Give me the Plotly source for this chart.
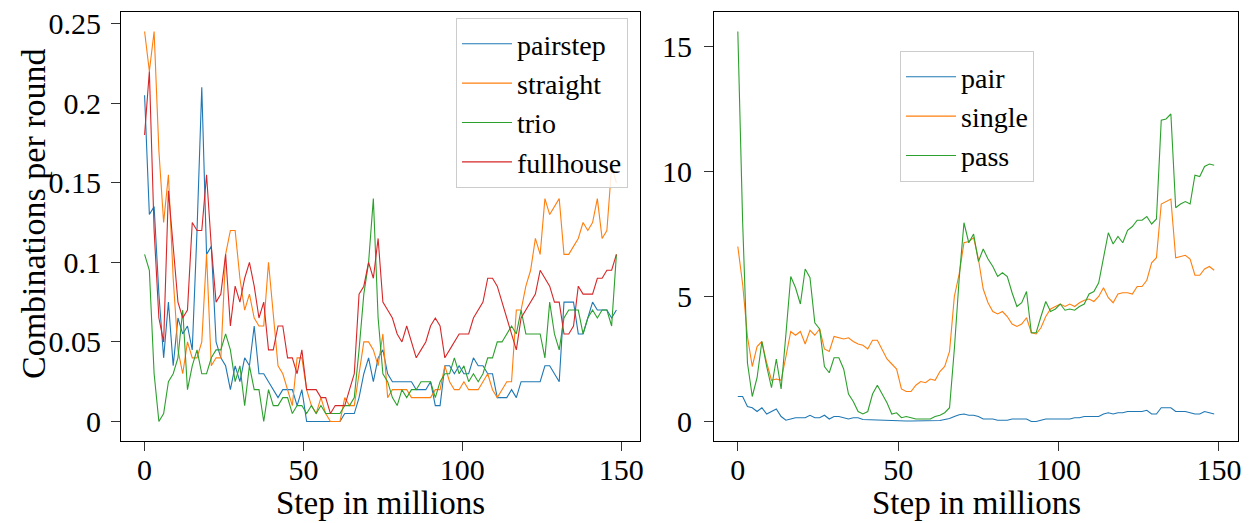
import plotly.graph_objects as go

# ---------------- data ----------------
steps = [round(1.5 * i, 1) for i in range(100)]  # step in millions

pairstep = [0.205, 0.13, 0.135, 0.08, 0.04, 0.075, 0.035, 0.065, 0.055, 0.06,
            0.045, 0.12, 0.21, 0.105, 0.11, 0.05, 0.04, 0.035, 0.02, 0.035,
            0.025, 0.04, 0.035, 0.06, 0.03, 0.03, 0.025, 0.02, 0.015, 0.02,
            0.02, 0.02, 0.01, 0.02, 0.0, 0.0, 0.0, 0.0, 0.0, 0.0,
            0.0, 0.0, 0.005, 0.005, 0.005, 0.015, 0.03, 0.04, 0.025, 0.04,
            0.045, 0.03, 0.025, 0.025, 0.025, 0.025, 0.025, 0.02, 0.02, 0.02,
            0.025, 0.01, 0.01, 0.035, 0.035, 0.03, 0.035, 0.03, 0.03, 0.04,
            0.035, 0.035, 0.03, 0.03, 0.015, 0.015, 0.015, 0.02, 0.015, 0.025,
            0.025, 0.025, 0.025, 0.025, 0.035, 0.035, 0.03, 0.025, 0.075, 0.075,
            0.075, 0.055, 0.055, 0.065, 0.075, 0.07, 0.07, 0.07, 0.065, 0.07]

straight = [0.245, 0.22, 0.245, 0.17, 0.125, 0.155, 0.09, 0.045, 0.03, 0.05,
            0.04, 0.04, 0.05, 0.105, 0.035, 0.04, 0.04, 0.105, 0.12, 0.12,
            0.09, 0.07, 0.08, 0.065, 0.06, 0.06, 0.1, 0.065, 0.035, 0.03,
            0.02, 0.01, 0.04, 0.04, 0.02, 0.01, 0.005, 0.015, 0.005, 0.0,
            0.0, 0.0, 0.015, 0.01, 0.01, 0.03, 0.05, 0.05, 0.045, 0.035,
            0.055, 0.015, 0.02, 0.02, 0.02, 0.02, 0.015, 0.015, 0.015, 0.015,
            0.015, 0.02, 0.02, 0.035, 0.025, 0.02, 0.02, 0.025, 0.02, 0.02,
            0.02, 0.025, 0.03, 0.02, 0.015, 0.02, 0.025, 0.025, 0.07, 0.07,
            0.085, 0.095, 0.115, 0.105, 0.14, 0.13, 0.135, 0.14, 0.105, 0.105,
            0.11, 0.115, 0.125, 0.12, 0.125, 0.14, 0.115, 0.12, 0.16, 0.15]

trio = [0.105, 0.095, 0.03, 0.0, 0.005, 0.025, 0.03, 0.04, 0.07, 0.02,
        0.035, 0.045, 0.03, 0.03, 0.04, 0.045, 0.045, 0.055, 0.045, 0.025,
        0.035, 0.01, 0.035, 0.02, 0.02, 0.0, 0.02, 0.01, 0.01, 0.015,
        0.015, 0.005, 0.01, 0.01, 0.005, 0.01, 0.005, 0.01, 0.005, 0.005,
        0.005, 0.005, 0.01, 0.01, 0.015, 0.045, 0.08, 0.1, 0.14, 0.065,
        0.03, 0.025, 0.015, 0.01, 0.02, 0.015, 0.02, 0.02, 0.025, 0.025,
        0.025, 0.015, 0.025, 0.03, 0.03, 0.04, 0.03, 0.035, 0.025, 0.03,
        0.025, 0.03, 0.04, 0.04, 0.05, 0.05, 0.055, 0.06, 0.055, 0.07,
        0.055, 0.055, 0.055, 0.055, 0.04, 0.075, 0.055, 0.045, 0.065, 0.07,
        0.07, 0.07, 0.055, 0.065, 0.07, 0.065, 0.07, 0.07, 0.06, 0.105]

fullhouse = [0.18, 0.22, 0.12, 0.065, 0.05, 0.145, 0.11, 0.075, 0.065, 0.07,
             0.125, 0.12, 0.12, 0.155, 0.11, 0.075, 0.08, 0.105, 0.06, 0.085,
             0.075, 0.09, 0.1, 0.085, 0.065, 0.075, 0.045, 0.045, 0.06, 0.06,
             0.04, 0.04, 0.03, 0.045, 0.02, 0.02, 0.02, 0.015, 0.015, 0.005,
             0.01, 0.01, 0.01, 0.02, 0.03, 0.08, 0.085, 0.1, 0.09, 0.115,
             0.075, 0.07, 0.065, 0.055, 0.05, 0.06, 0.05, 0.04, 0.045, 0.05,
             0.06, 0.065, 0.06, 0.04, 0.045, 0.05, 0.055, 0.055, 0.055, 0.065,
             0.07, 0.075, 0.09, 0.09, 0.085, 0.075, 0.065, 0.055, 0.045, 0.065,
             0.07, 0.075, 0.08, 0.095, 0.09, 0.085, 0.075, 0.075, 0.055, 0.055,
             0.06, 0.085, 0.08, 0.08, 0.08, 0.09, 0.09, 0.095, 0.095, 0.105]

pair = [1.0, 1.0, 0.6, 0.55, 0.4, 0.55, 0.3, 0.4, 0.5, 0.2,
        0.05, 0.1, 0.15, 0.15, 0.15, 0.25, 0.15, 0.15, 0.25, 0.1,
        0.2, 0.2, 0.15, 0.1, 0.15, 0.15, 0.08, 0.07, 0.06, 0.06,
        0.05, 0.04, 0.04, 0.03, 0.03, 0.02, 0.02, 0.02, 0.02, 0.02,
        0.02, 0.03, 0.04, 0.08, 0.12, 0.2, 0.27, 0.3, 0.25, 0.25,
        0.2, 0.1, 0.1, 0.1, 0.05, 0.05, 0.05, 0.1, 0.1, 0.1,
        0.1, 0.0, 0.0, 0.05, 0.1, 0.1, 0.1, 0.1, 0.1, 0.1,
        0.15, 0.15, 0.2, 0.2, 0.2, 0.2, 0.3, 0.35, 0.3, 0.35,
        0.35, 0.4, 0.4, 0.4, 0.4, 0.45, 0.3, 0.3, 0.55, 0.55,
        0.55, 0.4, 0.4, 0.4, 0.35, 0.3, 0.3, 0.4, 0.35, 0.3]

single = [7.0, 5.5, 3.4, 2.2, 3.0, 3.2, 2.35, 1.65, 1.7, 1.65,
          2.6, 3.6, 3.45, 3.6, 3.1, 3.65, 3.45, 3.7, 2.9, 2.8,
          3.4, 3.35, 3.3, 3.35, 3.2, 3.1, 3.05, 2.9, 3.25, 3.25,
          2.85, 2.5, 2.3, 2.1, 1.3, 1.2, 1.2, 1.45, 1.6, 1.55,
          1.7, 1.65, 2.0, 2.2, 2.8, 5.0, 5.9, 7.15, 7.2, 7.35,
          6.5, 5.3, 4.75, 4.4, 4.3, 4.4, 4.2, 3.9, 3.8, 3.9,
          4.15, 3.55, 3.5, 3.75, 4.2, 4.5, 4.6, 4.7, 4.6, 4.7,
          4.6, 4.75, 4.85, 4.9, 4.8, 5.0, 5.35, 4.95, 4.75, 5.1,
          5.15, 5.15, 5.1, 5.4, 5.4, 5.65, 6.35, 6.55, 8.7, 8.8,
          8.9, 6.55, 6.6, 6.65, 6.5, 5.85, 5.85, 6.1, 6.2, 6.05]

pass_ = [15.6, 8.0, 2.35, 1.0, 1.75, 3.2, 2.2, 1.35, 2.5, 1.3,
         3.5, 5.8, 5.35, 4.7, 6.1, 5.75, 3.95, 3.7, 2.2, 1.95,
         2.55, 2.55, 2.1, 1.1, 0.8, 0.4, 0.3, 0.4, 1.1, 1.45,
         1.1, 0.75, 0.3, 0.35, 0.15, 0.2, 0.15, 0.1, 0.1, 0.1,
         0.1, 0.2, 0.25, 0.35, 0.55, 2.9, 5.7, 7.95, 7.15, 7.5,
         6.4, 6.9, 6.5, 6.2, 5.8, 5.95, 5.8, 5.15, 4.6, 4.75,
         5.2, 3.55, 3.55, 4.2, 4.8, 4.4, 4.5, 4.7, 4.45, 4.5,
         4.45, 4.6, 4.7, 5.1, 5.2, 5.55, 6.5, 7.55, 7.1, 7.4,
         7.15, 7.65, 7.8, 8.05, 8.05, 8.2, 7.9, 8.1, 12.05, 12.1,
         12.3, 8.55, 8.7, 8.8, 8.7, 9.85, 9.8, 10.2, 10.3, 10.25]

left_names = ["pairstep", "straight", "trio", "fullhouse"]
right_names = ["pair", "single", "pass"]
colors = ["#1f77b4", "#ff7f0e", "#2ca02c", "#d62728"]

x_ticks = [0, 50, 100, 150]
left_yticks = [0, 0.05, 0.1, 0.15, 0.2, 0.25]
left_yticklabels = ["0", "0.05", "0.1", "0.15", "0.2", "0.25"]
right_yticks = [0, 5, 10, 15]
right_yticklabels = ["0", "5", "10", "15"]

x_title = "Step in millions"
y_title = "Combinations per round"

# ---------------- figure ----------------
FONT = "Liberation Serif"
W, H = 1256, 523
ML, MR, MT, MB = 121, 18, 12, 82
PW, PH = W - ML - MR, H - MT - MB


def px_x(p):
    return (p - ML) / PW


def px_y(p):
    return 1 - (p - MT) / PH


def padded(vals_lists):
    lo = min(min(v) for v in vals_lists)
    hi = max(max(v) for v in vals_lists)
    d = (hi - lo) * 0.05
    return [lo - d, hi + d]


fig = go.Figure()

for name, vals, c in zip(left_names, [pairstep, straight, trio, fullhouse], colors):
    fig.add_trace(go.Scatter(x=steps, y=vals, mode="lines", name=name,
                             line=dict(color=c, width=1.1),
                             xaxis="x", yaxis="y", legend="legend"))

for name, vals, c in zip(right_names, [pair, single, pass_], colors):
    fig.add_trace(go.Scatter(x=steps, y=vals, mode="lines", name=name,
                             line=dict(color=c, width=1.1),
                             xaxis="x2", yaxis="y2", legend="legend2"))

xr = padded([steps])
axis_common = dict(showline=True, mirror=True, linecolor="black", linewidth=1,
                   ticks="outside", ticklen=9, tickwidth=1, tickcolor="#333",
                   showgrid=False, zeroline=False, automargin=False,
                   tickfont=dict(family=FONT, size=30, color="black"))

left_dom_x = [0, px_x(640)]
right_dom_x = [px_x(714), 1]

legend_common = dict(bgcolor="rgba(255,255,255,0.85)", bordercolor="#cccccc",
                     borderwidth=1, font=dict(family=FONT, size=28, color="black"),
                     tracegroupgap=0, itemwidth=50)

fig.update_layout(
    width=W, height=H,
    margin=dict(l=ML, r=MR, t=MT, b=MB, autoexpand=False),
    paper_bgcolor="white", plot_bgcolor="white",
    font=dict(family=FONT, size=30, color="black"),
    showlegend=True,
    xaxis=dict(domain=left_dom_x, range=xr, tickvals=x_ticks, anchor="y",
               ticklabelstandoff=-7, **axis_common),
    yaxis=dict(domain=[0, 1], range=padded([pairstep, straight, trio, fullhouse]),
               tickvals=left_yticks, ticktext=left_yticklabels, anchor="x",
               ticklabelstandoff=4, **axis_common),
    xaxis2=dict(domain=right_dom_x, range=xr, tickvals=x_ticks, anchor="y2",
                ticklabelstandoff=-7, **axis_common),
    yaxis2=dict(domain=[0, 1], range=padded([pair, single, pass_]),
                tickvals=right_yticks, ticktext=right_yticklabels, anchor="x2",
                ticklabelstandoff=6, **axis_common),
    legend=dict(x=px_x(628), y=px_y(18), xanchor="right", yanchor="top",
                **legend_common),
    legend2=dict(x=px_x(900), y=px_y(51), xanchor="left", yanchor="top",
                 **legend_common),
    annotations=[
        dict(text=y_title, x=px_x(33), y=px_y(214), xref="paper", yref="paper",
             xanchor="center", yanchor="middle", textangle=-90, showarrow=False,
             font=dict(family=FONT, size=34)),
        dict(text=x_title, x=px_x(380), y=px_y(523), xref="paper", yref="paper",
             xanchor="center", yanchor="bottom", showarrow=False,
             font=dict(family=FONT, size=33)),
        dict(text=x_title, x=px_x(976), y=px_y(523), xref="paper", yref="paper",
             xanchor="center", yanchor="bottom", showarrow=False,
             font=dict(family=FONT, size=33)),
    ],
)

fig.write_html("out.html")
